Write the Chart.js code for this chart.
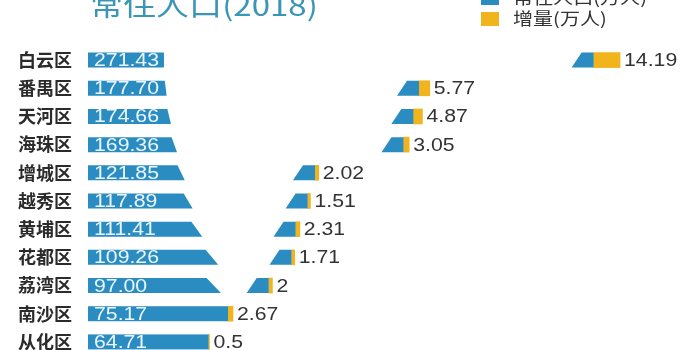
<!DOCTYPE html>
<html>
<head>
<meta charset="utf-8">
<script src="https://cdn.jsdelivr.net/npm/chart.js@4.4.1/dist/chart.umd.min.js"></script>
<style>
  html, body { margin: 0; padding: 0; background: #fff; overflow: hidden; }
  #wrap { position: relative; width: 699px; height: 350px; overflow: hidden; }
  /* canvas sits a little above the window so the heading is cropped at the top */
  #chart { position: absolute; left: 0; top: -22px; width: 699px; height: 384px; }
</style>
</head>
<body>
<div id="wrap"><canvas id="chart" width="699" height="384"></canvas></div>
<script>
// 常住人口 2018 (万人) and the increase over the year (万人)
const districts = ['白云区', '番禺区', '天河区', '海珠区', '增城区', '越秀区', '黄埔区', '花都区', '荔湾区', '南沙区', '从化区'];
const population = [271.43, 177.70, 174.66, 169.36, 121.85, 117.89, 111.41, 109.26, 97.00, 75.17, 64.71];
const increase = [14.19, 5.77, 4.87, 3.05, 2.02, 1.51, 2.31, 1.71, 2, 2.67, 0.5];
const popLabels = population.map(v => v.toFixed(2));
const incLabels = increase.map(v => String(v));

const titleText = '常住人口(2018)';
const seriesNames = ['常住人口(万人)', '增量(万人)'];

const BLUE = '#2a8cc0';
const GOLD = '#f1b41c';
const STRETCH = 1.18; // lettering in this graphic is set wide
const VALUE_FONT = '18px "Liberation Sans", Arial, sans-serif';
const CJK = '"Noto Sans CJK SC", sans-serif';

function wideText(ctx, text, x, y, font, color, baseline) {
  ctx.save();
  ctx.font = font;
  ctx.fillStyle = color;
  ctx.textAlign = 'left';
  ctx.textBaseline = baseline || 'middle';
  ctx.translate(x, y);
  ctx.scale(STRETCH, 1);
  ctx.fillText(text, 0, 0);
  ctx.restore();
}

function wideWidth(ctx, text, font) {
  ctx.save();
  ctx.font = font;
  const w = ctx.measureText(text).width * STRETCH;
  ctx.restore();
  return w;
}

function poly(ctx, pts) {
  ctx.beginPath();
  ctx.moveTo(pts[0], pts[1]);
  for (let k = 2; k < pts.length; k += 2) ctx.lineTo(pts[k], pts[k + 1]);
  ctx.closePath();
  ctx.fill();
}

// population bars are drawn as a ribbon: a label tab at the start and a
// short wedge at the far end, the middle folded away
const ribbon = {
  id: 'ribbon',
  beforeDatasetDraw(chart, args) {
    if (args.index !== 0) return;
    const ctx = chart.ctx;
    ctx.save();
    ctx.fillStyle = BLUE;
    args.meta.data.forEach((bar, i) => {
      const { x, y, base, height } = bar.getProps(['x', 'y', 'base', 'height'], true);
      const top = y - height / 2;
      const bottom = y + height / 2;
      const textEnd = base + 6 + wideWidth(ctx, popLabels[i], VALUE_FONT);
      const tabTop = textEnd + 5 + 0.85 * i * i;
      const tabBottom = tabTop + 1.8 * i;
      const tailTop = x - 12;
      const tailBottom = x - 22;
      if (tabBottom >= tailBottom) {
        ctx.fillRect(base, top, x - base, height);
      } else {
        poly(ctx, [base, top, tabTop, top, tabBottom, bottom, base, bottom]);
        poly(ctx, [tailTop, top, x, top, x, bottom, tailBottom, bottom]);
      }
    });
    ctx.restore();
    return false;
  },
  afterDatasetsDraw(chart) {
    const ctx = chart.ctx;
    const popMeta = chart.getDatasetMeta(0);
    const incMeta = chart.getDatasetMeta(1);
    popMeta.data.forEach((bar, i) => {
      const { y, base } = bar.getProps(['y', 'base'], true);
      wideText(ctx, popLabels[i], base + 6, y + 1, VALUE_FONT, '#eaf6fb');
    });
    incMeta.data.forEach((bar, i) => {
      const { x, y } = bar.getProps(['x', 'y'], true);
      wideText(ctx, incLabels[i], x + 4, y + 1, VALUE_FONT, '#333');
    });
  },
  afterDraw(chart) {
    const ctx = chart.ctx;
    // heading
    wideText(ctx, titleText, 90, 38, '28px ' + CJK, '#3b96b6', 'alphabetic');
    // legend
    const colors = chart.data.datasets.map(d => d.backgroundColor);
    seriesNames.forEach((name, k) => {
      const cy = 20 + k * 21;
      ctx.fillStyle = colors[k];
      ctx.fillRect(481, cy - 7, 18, 14);
      wideText(ctx, name, 513, cy, '17px ' + CJK, '#333');
    });
  }
};

new Chart(document.getElementById('chart'), {
  type: 'bar',
  data: {
    labels: districts,
    datasets: [
      { label: seriesNames[0], data: population, backgroundColor: BLUE, barThickness: 15 },
      { label: seriesNames[1], data: increase, backgroundColor: GOLD, barThickness: 15 }
    ]
  },
  options: {
    indexAxis: 'y',
    responsive: false,
    maintainAspectRatio: false,
    animation: false,
    devicePixelRatio: 1,
    layout: { padding: { top: 68, bottom: 6, left: 0, right: 0 } },
    plugins: {
      legend: { display: false },
      tooltip: { enabled: false }
    },
    scales: {
      x: { display: false, stacked: true, min: 0, max: 328 },
      y: {
        stacked: true,
        grid: { display: false, drawTicks: false },
        border: { display: false },
        ticks: {
          padding: 16,
          color: '#2b2b2b',
          font: { family: CJK, size: 18, weight: 'bold' }
        },
        afterFit(scale) {
          scale.width = 88;
          // rows run right to the bottom edge; no extra room for the end labels
          scale.paddingTop = 0;
          scale.paddingBottom = 0;
        }
      }
    }
  },
  plugins: [ribbon]
});
</script>
</body>
</html>
